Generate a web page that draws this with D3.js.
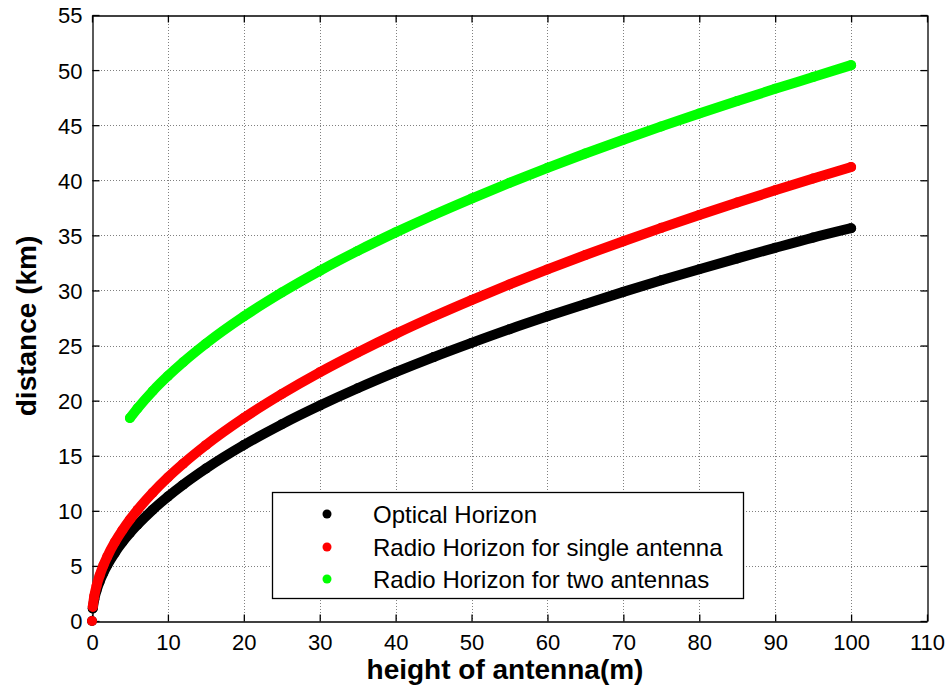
<!DOCTYPE html>
<html>
<head>
<meta charset="utf-8">
<script src="https://cdn.jsdelivr.net/npm/d3@7/dist/d3.min.js"></script>
<style>
  html, body { margin: 0; padding: 0; background: #fff; }
  svg { display: block; font-family: "Liberation Sans", Arial, sans-serif; }
</style>
</head>
<body>
<svg id="chart" width="952" height="692"></svg>
<script>
// ---- data ----
const heights = [0, 0.1, 0.3, 0.6, 1, 1.5, 2, 3, 4, 5, 6, 8, 10, 12, 15, 20, 25, 30, 35, 40, 45, 50, 55, 60, 65, 70, 75, 80, 85, 90, 95, 100];
const optical = [0, 1.13, 1.96, 2.77, 3.57, 4.37, 5.05, 6.18, 7.14, 7.98, 8.74, 10.10, 11.29, 12.37, 13.83, 15.97, 17.85, 19.55, 21.12, 22.58, 23.95, 25.24, 26.48, 27.65, 28.78, 29.87, 30.92, 31.93, 32.91, 33.87, 34.80, 35.65];
const radioSingle = [0, 1.30, 2.26, 3.19, 4.12, 5.05, 5.83, 7.14, 8.24, 9.21, 10.09, 11.65, 13.03, 14.27, 15.96, 18.43, 20.60, 22.57, 24.37, 26.06, 27.64, 29.13, 30.55, 31.91, 33.22, 34.47, 35.68, 36.85, 37.98, 39.09, 40.16, 41.20];
const heightsTwo = [5, 6, 8, 10, 12, 15, 20, 25, 30, 35, 40, 45, 50, 55, 60, 65, 70, 75, 80, 85, 90, 95, 100];
const radioTwo = [18.42, 19.30, 20.87, 22.24, 23.48, 25.17, 27.64, 29.81, 31.78, 33.59, 35.27, 36.85, 38.34, 39.77, 41.13, 42.43, 43.68, 44.89, 46.06, 47.20, 48.30, 49.37, 50.45];
const sampleStep = 0.1; // the plotted dots are sampled every 0.1 m
const seriesNames = ["Optical Horizon", "Radio Horizon for single antenna", "Radio Horizon for two antennas"];
const seriesColors = ["#000000", "#ff0000", "#00ff00"];
const xTicks = [0, 10, 20, 30, 40, 50, 60, 70, 80, 90, 100, 110];
const yTicks = [0, 5, 10, 15, 20, 25, 30, 35, 40, 45, 50, 55];
const xTitle = "height of antenna(m)";
const yTitle = "distance (km)";

// ---- layout ----
const L = 92, R = 927, T = 15, B = 621;
const svg = d3.select("#chart");
const x = d3.scaleLinear().domain([0, 110]).range([L, R]);
const y = d3.scaleLinear().domain([0, 55]).range([B, T]);

// grid
const grid = svg.append("g").attr("stroke", "#808080").attr("stroke-width", 1).attr("stroke-dasharray", "1,2");
grid.selectAll("line.vx").data(xTicks.filter(d => d > 0 && d < 110)).join("line")
  .attr("x1", d => Math.round(x(d)) + 0.5).attr("x2", d => Math.round(x(d)) + 0.5)
  .attr("y1", T).attr("y2", B);
grid.selectAll("line.hy").data(yTicks.filter(d => d > 0 && d < 55)).join("line")
  .attr("y1", d => Math.round(y(d)) + 0.5).attr("y2", d => Math.round(y(d)) + 0.5)
  .attr("x1", L).attr("x2", R);

// axes with inward ticks
const tl = 7;
const axB = svg.append("g").attr("transform", `translate(0,${B + 0.5})`)
  .call(d3.axisBottom(x).tickValues(xTicks).tickSize(-tl).tickPadding(13).tickSizeOuter(0));
const axT = svg.append("g").attr("transform", `translate(0,${T + 0.5})`)
  .call(d3.axisTop(x).tickValues(xTicks).tickSize(-tl).tickFormat("").tickSizeOuter(0));
const axL = svg.append("g").attr("transform", `translate(${L + 0.5},0)`)
  .call(d3.axisLeft(y).tickValues(yTicks).tickSize(-tl).tickPadding(10).tickSizeOuter(0));
const axR = svg.append("g").attr("transform", `translate(${R + 0.5},0)`)
  .call(d3.axisRight(y).tickValues(yTicks).tickSize(-tl).tickFormat("").tickSizeOuter(0));
[axB, axT, axL, axR].forEach(a => {
  a.selectAll("path.domain").attr("stroke", "#000").attr("stroke-width", 1.3);
  a.selectAll(".tick line").attr("stroke", "#000").attr("stroke-width", 1.3);
  a.selectAll(".tick text").attr("fill", "#000").attr("font-size", 22)
    .attr("font-family", "'Liberation Sans', Arial, sans-serif");
});
axB.selectAll(".tick text").attr("dy", "0.71em");
axL.selectAll(".tick text").attr("dy", "0.36em");

// series
const series = [
  { xs: heights, ys: optical },
  { xs: heights, ys: radioSingle },
  { xs: heightsTwo, ys: radioTwo }
];
const r = 5;
series.forEach((s, i) => {
  const pts = s.xs.map((h, k) => [h, s.ys[k]]);
  // split into runs where neighbouring sampled dots would touch
  const runs = [];
  let cur = [pts[0]];
  for (let k = 1; k < pts.length; k++) {
    const a = pts[k - 1], b = pts[k];
    const steps = Math.max(1, Math.round((b[0] - a[0]) / sampleStep));
    const dyPerStep = Math.abs(y(b[1]) - y(a[1])) / steps;
    if (dyPerStep > 2 * r) { runs.push(cur); cur = [b]; } else cur.push(b);
  }
  runs.push(cur);
  const g = svg.append("g");
  runs.filter(rn => rn.length > 1).forEach(rn => {
    g.append("path").attr("d", d3.line().x(d => x(d[0])).y(d => y(d[1])).curve(d3.curveMonotoneX)(rn))
      .attr("fill", "none").attr("stroke", seriesColors[i]).attr("stroke-width", 2 * r)
      .attr("stroke-linecap", "round").attr("stroke-linejoin", "round");
  });
  g.selectAll("circle").data(pts).join("circle")
    .attr("cx", d => x(d[0])).attr("cy", d => y(d[1])).attr("r", r)
    .attr("fill", seriesColors[i]);
});

// legend
const lg = svg.append("g");
lg.append("rect").attr("x", 272.5).attr("y", 492.5).attr("width", 471).attr("height", 106)
  .attr("fill", "#fff").attr("stroke", "#000").attr("stroke-width", 1.3);
const rowsY = [514, 547, 579];
seriesNames.forEach((nm, i) => {
  lg.append("circle").attr("cx", 327).attr("cy", rowsY[i]).attr("r", 4.5).attr("fill", seriesColors[i]);
  lg.append("text").attr("x", 373).attr("y", rowsY[i]).attr("dy", "0.36em")
    .attr("font-size", 24).attr("fill", "#000").text(nm);
});

// titles
svg.append("text").attr("x", 505).attr("y", 679).attr("text-anchor", "middle")
  .attr("font-size", 28).attr("font-weight", "bold").attr("fill", "#000").text(xTitle);
svg.append("text").attr("transform", `translate(36,${(T + B) / 2 + 8}) rotate(-90)`)
  .attr("text-anchor", "middle")
  .attr("font-size", 28).attr("font-weight", "bold").attr("fill", "#000").text(yTitle);
</script>
</body>
</html>
